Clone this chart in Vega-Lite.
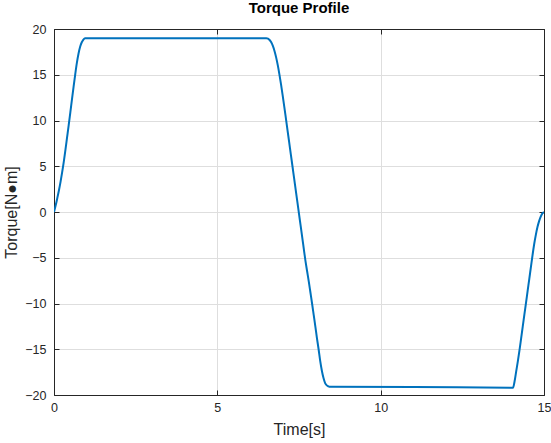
{
  "$schema": "https://vega.github.io/schema/vega-lite/v6.json",
  "width": 490,
  "height": 366,
  "autosize": {"type": "none"},
  "padding": {"left": 54, "top": 29, "right": 7, "bottom": 48},
  "background": "white",
  "title": {"text": "Torque Profile", "font": "Liberation Sans", "fontSize": 15, "fontWeight": "bold", "color": "#000000", "offset": 7},
  "config": {
    "view": {"stroke": "#262626", "strokeWidth": 1},
    "axis": {"labelFont": "Liberation Sans", "titleFont": "Liberation Sans", "labelColor": "#262626", "titleColor": "#262626", "domainColor": "#262626", "tickColor": "#262626", "gridColor": "#dedede", "labelFontSize": 12.5, "titleFontSize": 16, "titleFontWeight": "normal", "labelFlush": false}
  },
  "data": {"values": [
    {"t": 0, "v": 0}, {"t": 0.05, "v": 0.7}, {"t": 0.1, "v": 1.5}, {"t": 0.15, "v": 2.35}, {"t": 0.2, "v": 3.3},
    {"t": 0.25, "v": 4.35}, {"t": 0.3, "v": 5.5}, {"t": 0.35, "v": 6.8}, {"t": 0.4, "v": 8.15}, {"t": 0.45, "v": 9.5},
    {"t": 0.5, "v": 10.9}, {"t": 0.55, "v": 12.3}, {"t": 0.6, "v": 13.7}, {"t": 0.65, "v": 15.05}, {"t": 0.7, "v": 16.3},
    {"t": 0.75, "v": 17.3}, {"t": 0.8, "v": 18.05}, {"t": 0.85, "v": 18.55}, {"t": 0.9, "v": 18.85}, {"t": 0.95, "v": 19.0},
    {"t": 1.0, "v": 19.0}, {"t": 6.5, "v": 19.0}, {"t": 6.55, "v": 18.95}, {"t": 6.6, "v": 18.8}, {"t": 6.65, "v": 18.55},
    {"t": 6.7, "v": 18.15}, {"t": 6.75, "v": 17.6}, {"t": 6.8, "v": 16.9}, {"t": 6.85, "v": 16.05}, {"t": 6.9, "v": 15.05},
    {"t": 6.95, "v": 13.95}, {"t": 7.0, "v": 12.75}, {"t": 7.05, "v": 11.5}, {"t": 7.1, "v": 10.2}, {"t": 7.15, "v": 8.9},
    {"t": 7.2, "v": 7.6}, {"t": 7.25, "v": 6.3}, {"t": 7.3, "v": 5.0}, {"t": 7.35, "v": 3.7}, {"t": 7.4, "v": 2.4},
    {"t": 7.45, "v": 1.1}, {"t": 7.5, "v": -0.2}, {"t": 7.55, "v": -1.5}, {"t": 7.6, "v": -2.8}, {"t": 7.65, "v": -4.1},
    {"t": 7.7, "v": -5.4}, {"t": 7.75, "v": -6.5}, {"t": 7.8, "v": -7.6}, {"t": 7.85, "v": -8.8}, {"t": 7.9, "v": -10.0},
    {"t": 7.95, "v": -11.25}, {"t": 8.0, "v": -12.5}, {"t": 8.05, "v": -13.8}, {"t": 8.1, "v": -15.0}, {"t": 8.15, "v": -16.3},
    {"t": 8.2, "v": -17.35}, {"t": 8.25, "v": -18.15}, {"t": 8.3, "v": -18.7}, {"t": 8.35, "v": -18.95}, {"t": 8.4, "v": -19.05},
    {"t": 8.45, "v": -19.1},
    {"t": 11.0, "v": -19.12}, {"t": 14.05, "v": -19.2}, {"t": 14.1, "v": -18.5}, {"t": 14.15, "v": -17.4}, {"t": 14.2, "v": -16.3},
    {"t": 14.25, "v": -15.1}, {"t": 14.3, "v": -13.8}, {"t": 14.35, "v": -12.5}, {"t": 14.4, "v": -11.2}, {"t": 14.45, "v": -9.9},
    {"t": 14.5, "v": -8.6}, {"t": 14.55, "v": -7.3}, {"t": 14.6, "v": -6.0}, {"t": 14.65, "v": -4.7}, {"t": 14.7, "v": -3.5},
    {"t": 14.75, "v": -2.5}, {"t": 14.8, "v": -1.65}, {"t": 14.85, "v": -1.0}, {"t": 14.9, "v": -0.5}, {"t": 14.95, "v": -0.15},
    {"t": 15.0, "v": 0}
  ]},
  "layer": [
    {
      "mark": {"type": "line", "color": "#0072BD", "strokeWidth": 2, "clip": true, "interpolate": "monotone"},
      "encoding": {
        "x": {"field": "t", "type": "quantitative", "scale": {"domain": [0, 15], "nice": false},
          "axis": {"title": "Time[s]", "values": [0, 5, 10, 15], "tickSize": -5, "labelPadding": 11, "titlePadding": 8, "grid": true}},
        "y": {"field": "v", "type": "quantitative", "scale": {"domain": [-20, 20], "nice": false},
          "axis": {"title": "Torque[N●m]", "values": [-20, -15, -10, -5, 0, 5, 10, 15, 20], "tickSize": -5, "labelPadding": 13, "titlePadding": 5, "grid": true}}
      }
    },
    {
      "mark": {"type": "line", "opacity": 0},
      "encoding": {
        "x": {"field": "t", "type": "quantitative", "scale": {"domain": [0, 15], "nice": false},
          "axis": {"orient": "top", "title": null, "labels": false, "values": [0, 5, 10, 15], "tickSize": -5, "grid": false}},
        "y": {"field": "v", "type": "quantitative", "scale": {"domain": [-20, 20], "nice": false},
          "axis": {"orient": "right", "title": null, "labels": false, "values": [-20, -15, -10, -5, 0, 5, 10, 15, 20], "tickSize": -5, "grid": false}}
      }
    }
  ],
  "resolve": {"axis": {"x": "independent", "y": "independent"}}
}
